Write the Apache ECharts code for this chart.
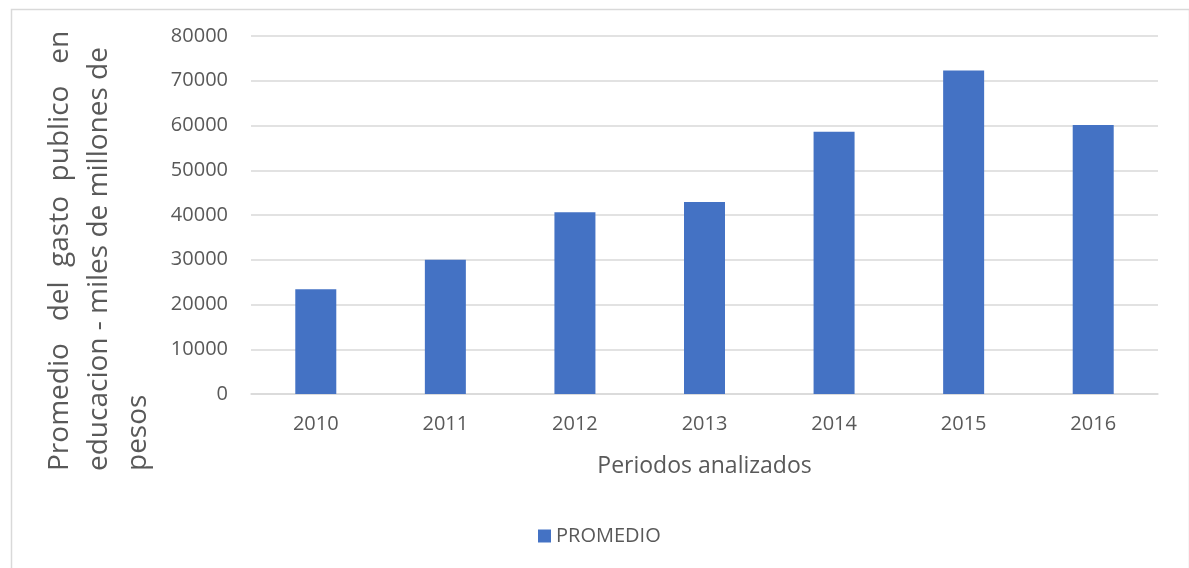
<!DOCTYPE html>
<html>
<head>
<meta charset="utf-8">
<script src="https://cdn.jsdelivr.net/npm/echarts@6/dist/echarts.min.js"></script>
<style>
  html, body { margin: 0; padding: 0; background: #fff; }
  #chart { width: 1189px; height: 568px; }
</style>
</head>
<body>
<div id="chart"></div>
<script>
// datos
const periodos = ['2010', '2011', '2012', '2013', '2014', '2015', '2016']
const promedio = [23400, 30000, 40600, 42900, 58600, 72300, 60100]
const yTicks = { min: 0, max: 80000, interval: 10000 }

const tituloY = 'Promedio   del  gasto  publico   en\neducacion - miles de millones de\npesos'

const chart = echarts.init(document.getElementById('chart'))

chart.setOption({
  animation: false,
  textStyle: { fontFamily: 'Open Sans' },
  grid: { left: 251, right: 31, top: 36, bottom: 174 },
  legend: {
    data: ['PROMEDIO'],
    left: 533,
    top: 521,
    itemWidth: 13,
    itemHeight: 13,
    icon: 'rect',
    textStyle: { color: '#595959', fontSize: 20, fontFamily: 'Open Sans' }
  },
  xAxis: {
    type: 'category',
    data: periodos,
    name: 'Periodos analizados',
    nameLocation: 'middle',
    nameGap: 61,
    nameTextStyle: { color: '#595959', fontSize: 23 },
    axisLine: { lineStyle: { color: '#d9d9d9', width: 1.5 } },
    axisTick: { show: false },
    axisLabel: { color: '#595959', fontSize: 20, margin: 20 }
  },
  yAxis: {
    type: 'value',
    min: yTicks.min,
    max: yTicks.max,
    interval: yTicks.interval,
    axisLine: { show: false },
    axisTick: { show: false },
    axisLabel: {
      color: '#595959',
      fontSize: 20,
      margin: 23,
      formatter: (v) => String(v)
    },
    splitLine: { lineStyle: { color: '#d9d9d9', width: 1.5 } }
  },
  series: [
    {
      name: 'PROMEDIO',
      type: 'bar',
      data: promedio,
      barWidth: 41,
      itemStyle: { color: '#4472c4' }
    }
  ],
  graphic: [
    {
      type: 'rect',
      left: 9,
      top: 7,
      shape: { width: 1178, height: 600 },
      style: { fill: 'none', stroke: '#d9d9d9', lineWidth: 1.5 },
      silent: true,
      z: -10
    },
    {
      type: 'text',
      x: 41,
      y: 471,
      rotation: Math.PI / 2,
      style: {
        text: tituloY,
        fill: '#595959',
        fontSize: 28,
        fontFamily: 'Open Sans',
        lineHeight: 39,
        align: 'left',
        verticalAlign: 'top'
      }
    }
  ]
})
</script>
</body>
</html>
